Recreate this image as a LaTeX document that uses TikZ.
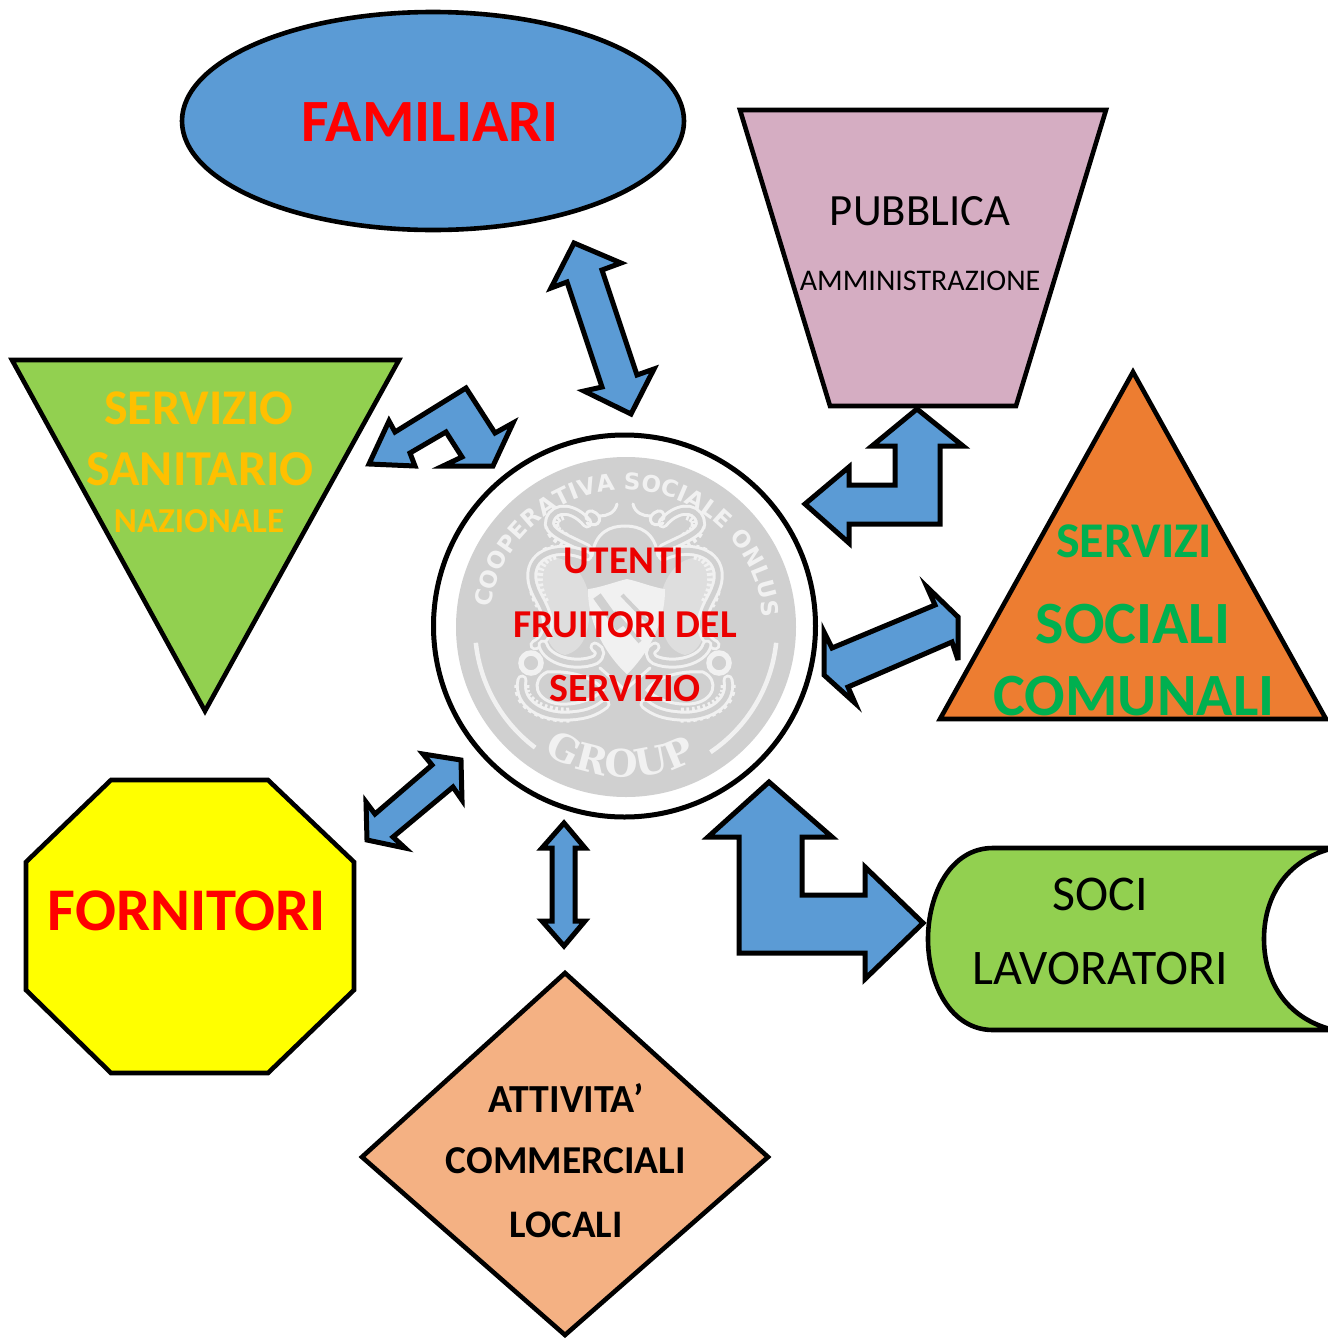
\documentclass[tikz,border=0pt]{standalone}
\usepackage{fontspec}
\setmainfont{Carlito}
\newfontfamily\logoserif{DejaVu Serif}
\newfontfamily\logosans{DejaVu Sans}
\usetikzlibrary{decorations.text}
\definecolor{arrowblue}{HTML}{5B9BD5}
\definecolor{lawngreen}{HTML}{92D050}
\definecolor{mauve}{HTML}{D5ADC2}
\definecolor{deeporange}{HTML}{ED7D31}
\definecolor{salmon}{HTML}{F4B183}
\definecolor{gold}{HTML}{FFC000}
\definecolor{leaf}{HTML}{00B050}
\definecolor{pureyellow}{HTML}{FFFF00}
\definecolor{purered}{HTML}{FF0000}
\definecolor{logogray}{HTML}{D0D0D0}
\definecolor{logolight}{HTML}{DEDEDE}
\definecolor{logowhite}{HTML}{F1F1F1}
\newcommand{\szf}[1]{\fontsize{#1}{#1}\selectfont}
\tikzset{
  x=1pt,y=-1pt,
  outlined/.style={draw=black,line width=4.6pt,line join=miter,miter limit=10},
  blockarrow/.style={draw=black,fill=arrowblue,line width=5pt,line join=miter,miter limit=6},
  lbl/.style={inner sep=0pt,outer sep=0pt,anchor=center},
  tent/.style={draw=logowhite,line width=3pt,double=logogray,double distance=5pt,line cap=round},
  scales/.style={draw=logowhite,line width=15pt,dash pattern=on 3pt off 3pt},
  thinwhite/.style={draw=logowhite,line width=3pt,line cap=round},
}
\newcommand{\octohalf}{%
  \fill[logolight] (-88,560) .. controls (-60,550) and (-40,570) .. (-35,600) .. controls (-35,630) and (-40,650) .. (-60,655) .. controls (-85,650) and (-80,610) .. (-88,590) -- cycle;
  \draw[thinwhite] (-33,556) .. controls (-30,532) and (-15,526) .. (0,526);
  \draw[scales] (-60,540) .. controls (-78,532) and (-78,515) .. (-60,512);
  \draw[tent] (-38,549) .. controls (-55,540) and (-80,532) .. (-75,520) .. controls (-70,505) and (-50,508) .. (-38,523);
  \draw[thinwhite] (-38,523) .. controls (-25,530) and (-20,515) .. (-33,511) .. controls (-40,510) and (-42,520) .. (-35,520);
  \draw[thinwhite] (-25,516) .. controls (-18,516) and (-10,513) .. (-8,504);
  \draw[scales] (-70,552) .. controls (-92,555) and (-95,585) .. (-82,605);
  \draw[tent] (-38,556) .. controls (-60,545) and (-90,550) .. (-93,572) .. controls (-95,590) and (-82,600) .. (-78,618) .. controls (-76,630) and (-80,640) .. (-90,645);
  \draw[draw=logowhite,line width=5.5pt] (-94,663) circle[radius=10];
  \draw[tent] (-82,645) .. controls (-78,660) and (-50,668) .. (-30,660) .. controls (-24,656) and (-24,650) .. (-30,647);
  \draw[scales] (-103,685) .. controls (-105,705) and (-80,716) .. (-55,715);
  \draw[tent] (-103,680) .. controls (-108,705) and (-80,718) .. (-55,716) .. controls (-40,715) and (-30,712) .. (-20,704);
  \draw[thinwhite] (-78,672) .. controls (-95,680) and (-90,702) .. (-65,704) .. controls (-45,705) and (-30,698) .. (-22,690) .. controls (-28,680) and (-50,670) .. (-78,672);
  \draw[thinwhite] (-25,668) -- (0,690);
}
\begin{document}
\begin{tikzpicture}
\useasboundingbox (0,0) rectangle (1328,1339);

% Outer shapes
\draw[outlined,fill=arrowblue] (433,121) ellipse[x radius=251,y radius=109];
\draw[outlined,fill=mauve] (740,110) -- (1106,110) -- (1016,406) -- (830,406) -- cycle;
\draw[outlined,fill=lawngreen] (12,360) -- (399,360) -- (205,711) -- cycle;
\draw[outlined,fill=deeporange] (1133,372) -- (1326,719) -- (940,719) -- cycle;
\draw[outlined,fill=pureyellow] (111,780) -- (268,780) -- (354,862) -- (354,990) -- (268,1073) -- (111,1073) -- (26,990) -- (26,862) -- cycle;
\draw[outlined,fill=salmon] (565,973) -- (768,1157) -- (565,1335) -- (362,1157) -- cycle;
\draw[outlined,fill=lawngreen] (1334,848) -- (993,848) .. controls (950,848) and (928,895) .. (928,939) .. controls (928,983) and (950,1030) .. (993,1030) -- (1334,1030) .. controls (1290,1020) and (1264,985) .. (1264,939) .. controls (1264,893) and (1290,858) .. (1334,848) -- cycle;

% Central disc with the logo
\draw[draw=black,line width=5pt,fill=white] (624.5,626) circle[radius=191];
\begin{scope}[shift={(626,627)},y=1pt]
  \fill[logogray] (0,0) circle[radius=170];
  \draw[draw=logowhite,line width=4.5pt] (186:151) arc[start angle=186,end angle=233,radius=151];
  \draw[draw=logowhite,line width=4.5pt] (354:151) arc[start angle=354,end angle=304,radius=151];
  \path[postaction={decorate},decoration={text along path,text align=fit to path,
    text={|\logosans\szf{23}\bfseries\color{logowhite}|COOPERATIVA SOCIALE ONLUS}}]
    (172:137) arc[start angle=172,end angle=4,radius=137];
  \path[postaction={decorate},decoration={text along path,text align=fit to path,
    text={|\logoserif\szf{38}\bfseries\color{logowhite}|GROUP}}]
    (237:150) arc[start angle=237,end angle=298,radius=150];
\end{scope}
\begin{scope}[xshift=625pt]\octohalf\end{scope}
\begin{scope}[xshift=625pt,xscale=-1]\octohalf\end{scope}
\draw[draw=logowhite,line width=2pt,fill=logowhite] (589,590) .. controls (602,588) and (615,583) .. (627,580) .. controls (640,583) and (652,588) .. (664,590) .. controls (664,625) and (645,655) .. (627,673) .. controls (608,655) and (589,625) .. (589,590) -- cycle;
\draw[draw=logogray,line width=9pt] (597,596) -- (620,628);
\draw[draw=logogray,line width=4pt] (622,595) -- (648,622);
\draw[draw=logogray,line width=4pt] (614,612) -- (640,642);

% Block arrows
\draw[blockarrow] (574,243) -- (621,263) -- (602,270) -- (637,375) -- (654,369) -- (631,414) -- (584,391) -- (602,387) -- (567,282) -- (551,288) -- cycle;
\draw[blockarrow] (369,464) -- (389,421) -- (395,432) -- (466,388) -- (495,433) -- (513,423) -- (493,466) -- (443,466) -- (462,457) -- (446,432) -- (410,453) -- (415,466) -- cycle;
\draw[blockarrow] (917,409) -- (963,446) -- (940,446) -- (940,524) -- (849,524) -- (849,543) -- (805,504) -- (849,467) -- (849,485) -- (895,485) -- (895,446) -- (872,446) -- cycle;
\draw[blockarrow] (927,587) -- (958,617) -- (958,660) -- (952,642) -- (848,687) -- (855,703) -- (824,675) -- (824,632) -- (832,648) -- (935,605) -- cycle;
\draw[blockarrow] (461,760) -- (462,800) -- (453,787) -- (393,837) -- (405,848) -- (367,840) -- (366,802) -- (375,814) -- (432,765) -- (423,754) -- cycle;
\draw[blockarrow] (564,823) -- (585,848) -- (575,848) -- (575,921) -- (585,921) -- (564,946) -- (542,921) -- (552,921) -- (552,848) -- (542,848) -- cycle;
\draw[blockarrow] (769,782) -- (832,837) -- (802,837) -- (802,895) -- (865,895) -- (865,867) -- (923,923) -- (865,979) -- (865,953) -- (739,953) -- (739,837) -- (708,837) -- cycle;

% Labels
\node[lbl,text=purered] (familiari) at (430,122) {\szf{60}\bfseries FAMILIARI};
\node[lbl] (pubblica) at (920,211) {\szf{44.7}PUBBLICA};
\node[lbl] (amministrazione) at (920,281) {\szf{30}AMMINISTRAZIONE};
\node[lbl,text=gold] (servizio1) at (199,408) {\szf{50}\bfseries SERVIZIO};
\node[lbl,text=gold] (sanitario) at (200,469) {\szf{50.3}\bfseries SANITARIO};
\node[lbl,text=gold] (nazionale) at (199,521) {\szf{35}\bfseries NAZIONALE};
\node[lbl,text=leaf] (servizi) at (1134,541) {\szf{50}\bfseries SERVIZI};
\node[lbl,text=leaf] (sociali) at (1133,624) {\szf{60}\bfseries SOCIALI};
\node[lbl,text=leaf] (comunali) at (1134,696) {\szf{60}\bfseries COMUNALI};
\node[lbl,text=purered] (fornitori) at (187,911) {\szf{60.6}\bfseries FORNITORI};
\node[lbl] (attivita) at (566,1098) {\szf{39.8}\bfseries ATTIVITA’};
\node[lbl] (commerciali) at (566,1161) {\szf{39.5}\bfseries COMMERCIALI};
\node[lbl] (locali) at (566,1225) {\szf{39}\bfseries LOCALI};
\node[lbl] (soci) at (1100,894) {\szf{50}SOCI};
\node[lbl] (lavoratori) at (1100,968) {\szf{49.8}LAVORATORI};
\node[lbl,text=purered!92!black] (utenti) at (624,561) {\szf{39.3}\bfseries UTENTI};
\node[lbl,text=purered!92!black] (fruitori) at (625,625) {\szf{39.5}\bfseries FRUITORI DEL};
\node[lbl,text=purered!92!black] (servizio2) at (625,689) {\szf{40}\bfseries SERVIZIO};
\end{tikzpicture}
\end{document}
